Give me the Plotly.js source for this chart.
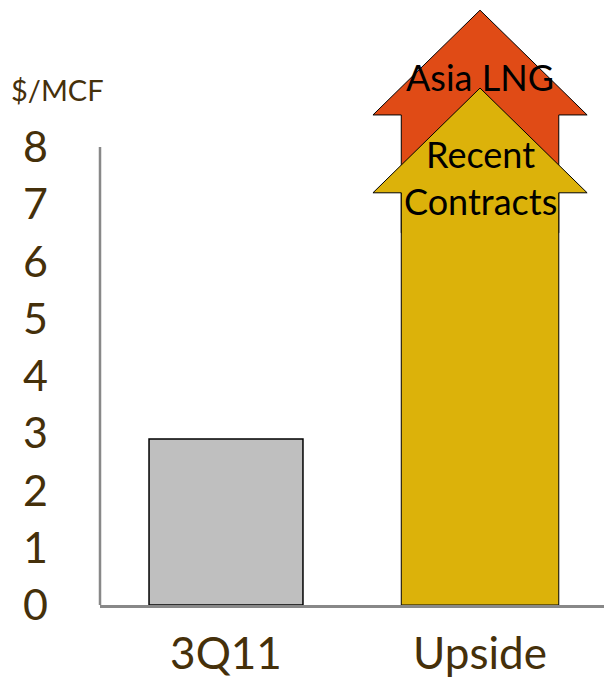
<!DOCTYPE html>
<html>
<head>
<meta charset="utf-8">
<script src="https://cdn.plot.ly/plotly-3.0.1.min.js"></script>
<style>html,body{margin:0;padding:0;background:#fff;}#chart{width:604px;height:680px;}</style>
</head>
<body>
<div id="chart"></div>
<script>
// ---- data ----
const categories = ['3Q11', 'Upside'];
const currentValues = [2.9];               // 3Q11 bar
const arrowLabels = ['Asia LNG', 'Recent<br>Contracts'];
const arrowBase = [6.5, 0];                // bottom of each upside arrow
const arrowShaftTop = [8.56, 7.2];         // where the arrowhead starts
const arrowTip = [10.39, 9.03];            // tip of the arrowhead
const arrowLabelY = [9.22, 7.46];
const arrowColors = ['#E04B16', '#DCB20A'];
const yTicks = [0, 1, 2, 3, 4, 5, 6, 7, 8];

// ---- styles ----
const brown = '#45300A';
const font = 'Lato, "Open Sans", sans-serif';
const shaftW = 0.62, headW = 0.843, barW = 0.606;

const traces = [{
  type: 'bar', x: [0], y: currentValues, width: barW,
  marker: {color: '#BFBFBF', line: {color: '#000', width: 1.5}},
  hoverinfo: 'skip'
}];

const c = 1;
for (let i = 0; i < arrowLabels.length; i++) {
  const b = arrowBase[i], s = arrowShaftTop[i], t = arrowTip[i];
  traces.push({
    type: 'scatter', mode: 'lines', fill: 'toself',
    x: [c - shaftW/2, c - shaftW/2, c - headW/2, c, c + headW/2, c + shaftW/2, c + shaftW/2, c - shaftW/2],
    y: [b, s, s, t, s, s, b, b],
    fillcolor: arrowColors[i], line: {color: '#000', width: 1},
    cliponaxis: false, hoverinfo: 'skip'
  });
}

const annotations = arrowLabels.map((txt, i) => ({
  x: c, y: arrowLabelY[i], xref: 'x', yref: 'y', text: txt, showarrow: false,
  font: {family: font, size: 36, color: '#000'}, xanchor: 'center', yanchor: 'middle'
}));
annotations.push({
  x: -100/504 + 9/504, y: (605 - 90) / 605, xref: 'paper', yref: 'paper', text: '$/MCF', showarrow: false,
  xanchor: 'left', yanchor: 'middle', font: {family: font, size: 29, color: brown}
});

const layout = {
  width: 604, height: 680,
  margin: {l: 100, r: 0, t: 0, b: 75, pad: 0},
  paper_bgcolor: '#fff', plot_bgcolor: '#fff',
  showlegend: false,
  xaxis: {
    range: [-0.496, 1.488], tickvals: [0, 1], ticktext: categories,
    showgrid: false, zeroline: false, showline: true, linecolor: '#888', linewidth: 2.5,
    ticks: '', ticklabelstandoff: 9,
    tickfont: {family: font, size: 44, color: brown}, fixedrange: true
  },
  yaxis: {
    range: [0, 605 / 57.25], tickvals: yTicks, ticktext: yTicks.map(String),
    showgrid: false, zeroline: false, showline: false, ticks: '',
    ticklabelstandoff: 51,
    tickfont: {family: font, size: 43, color: brown}, fixedrange: true
  },
  shapes: [{
    type: 'line', xref: 'paper', yref: 'y', x0: 0, x1: 0, y0: 0, y1: yTicks[yTicks.length - 1],
    line: {color: '#888', width: 2.5}
  }],
  annotations: annotations
};

Plotly.newPlot('chart', traces, layout, {displayModeBar: false, staticPlot: true});
</script>
</body>
</html>
